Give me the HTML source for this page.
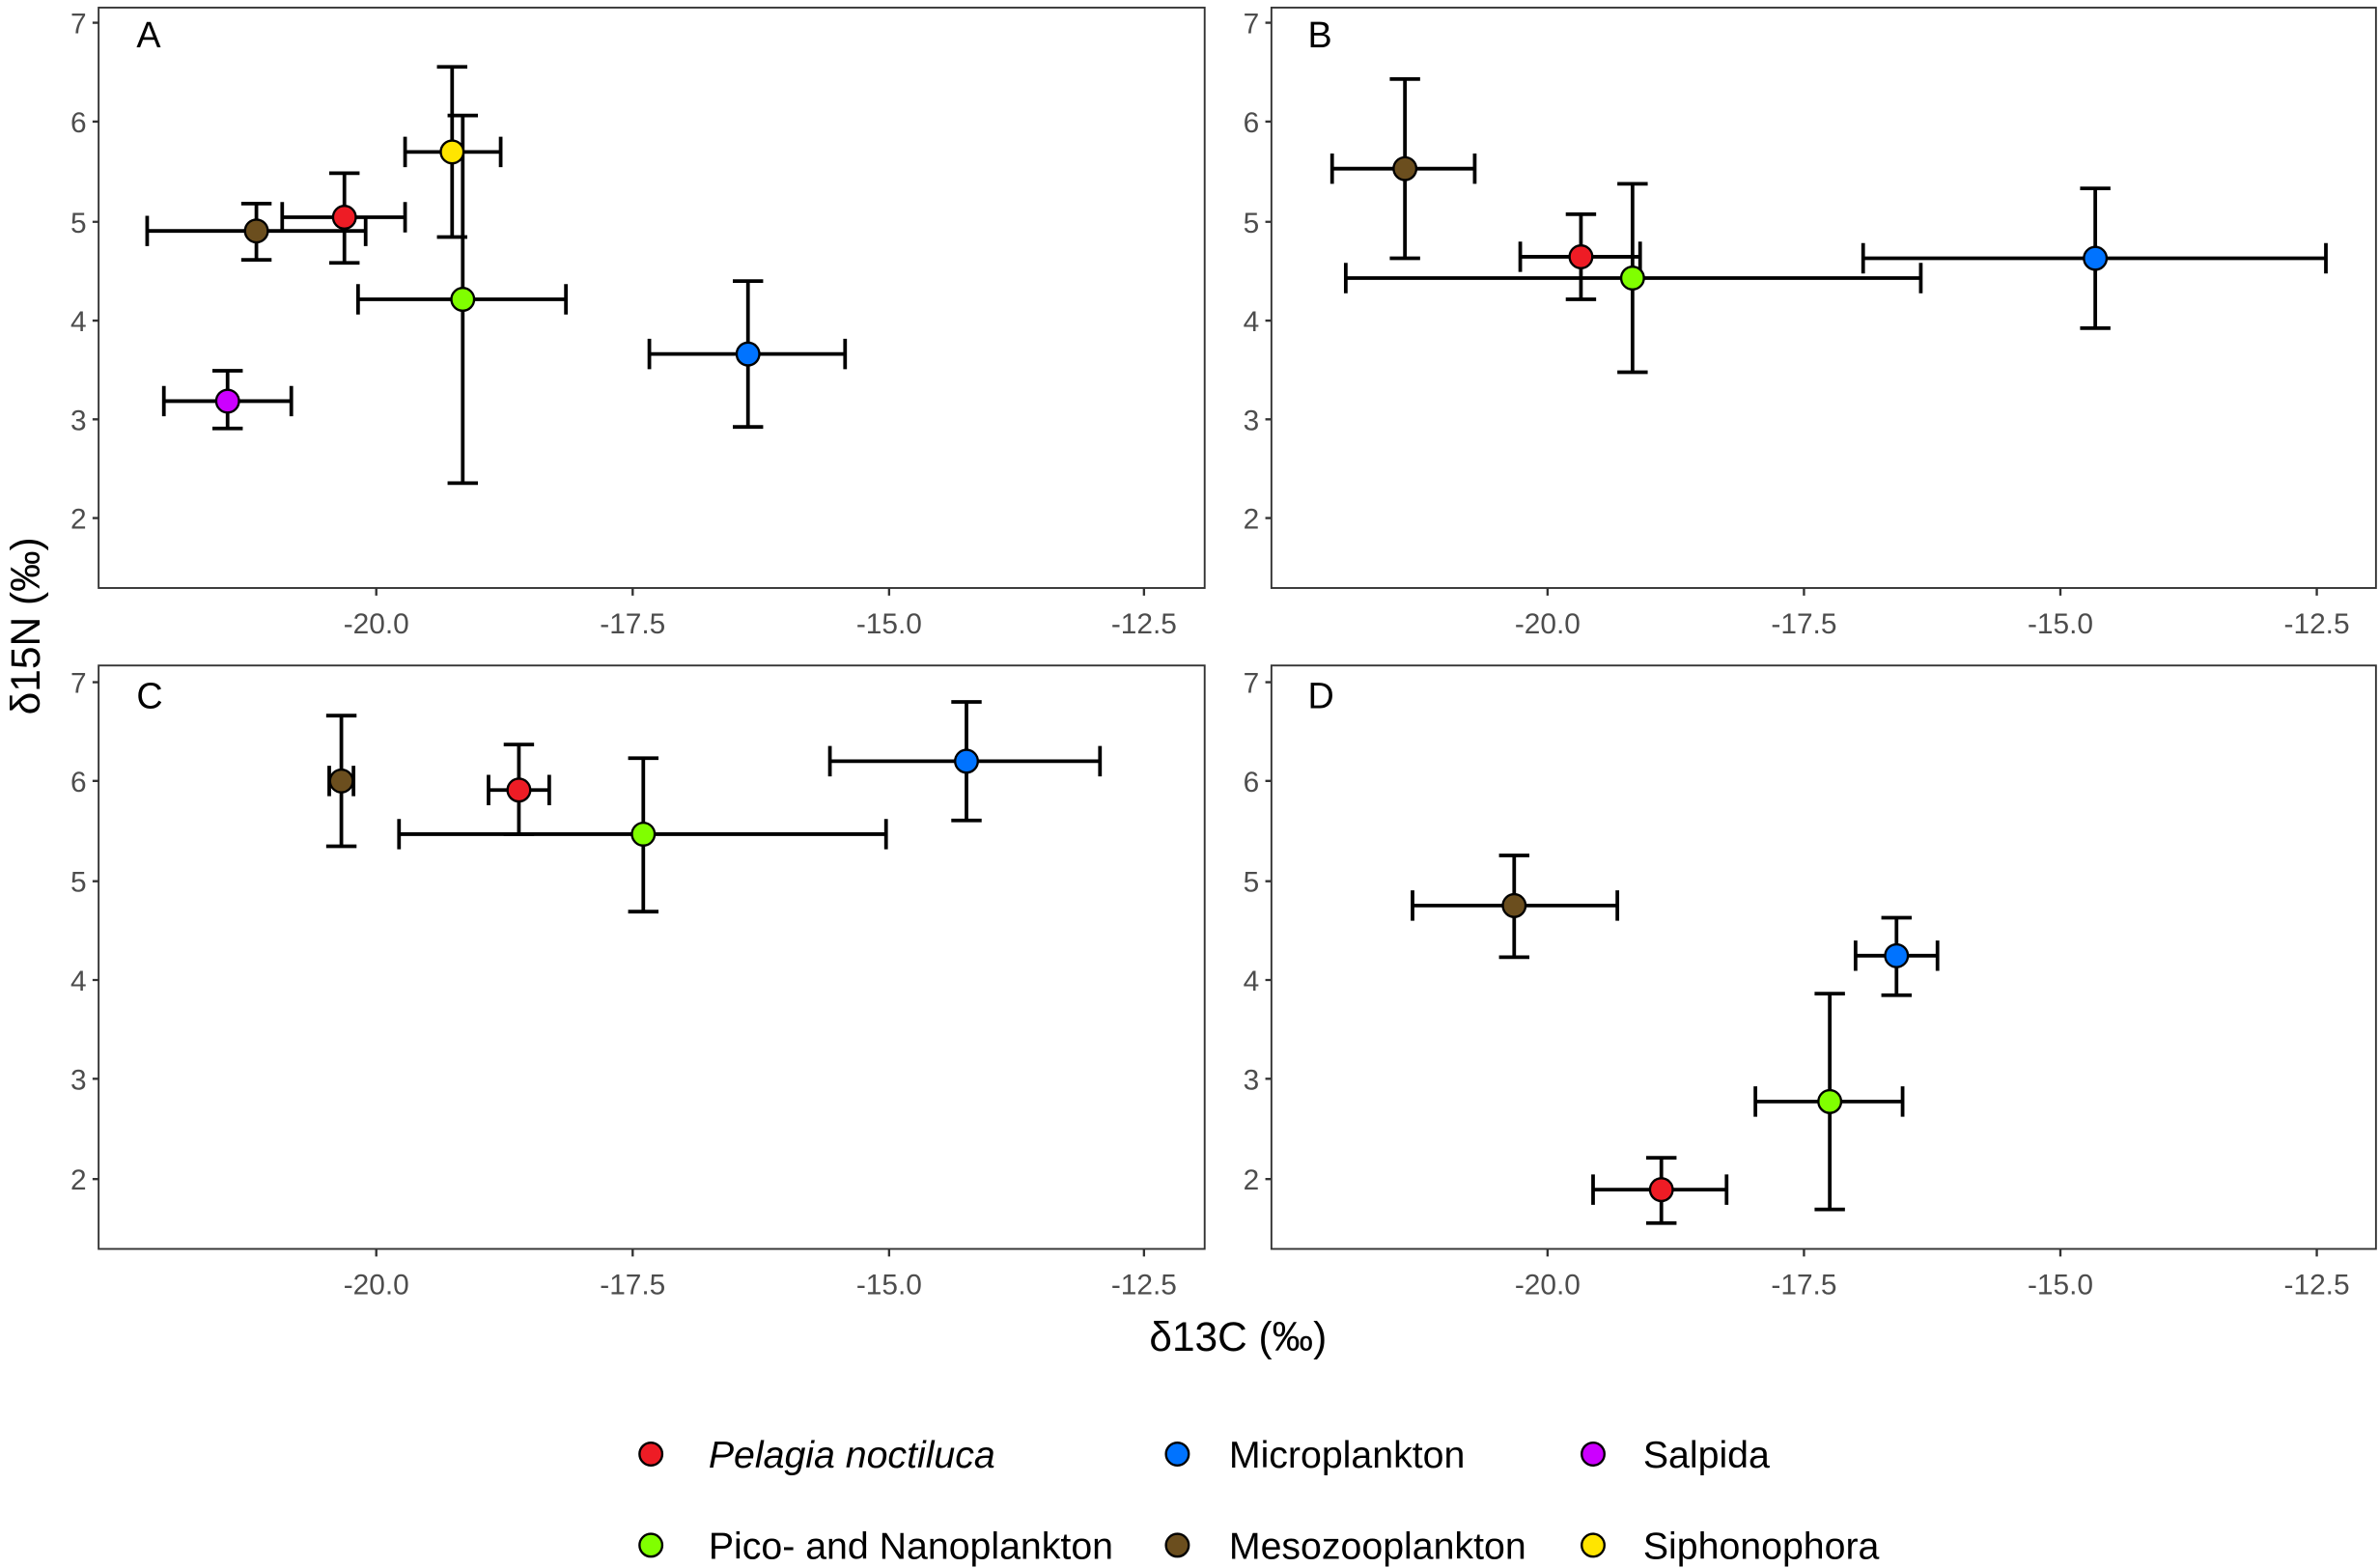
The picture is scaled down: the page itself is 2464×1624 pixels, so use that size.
<!DOCTYPE html>
<html><head><meta charset="utf-8"><style>html,body{margin:0;padding:0;background:#fff}svg{display:block}</style></head><body>
<svg width="2464" height="1624" viewBox="0 0 1568 1032" preserveAspectRatio="none" xmlns="http://www.w3.org/2000/svg" font-family="Liberation Sans, sans-serif">
<g fill="none" stroke="#333" stroke-width="1.2">
<rect x="65" y="5" width="729" height="382"/><rect x="838" y="5" width="728" height="382"/>
<rect x="65" y="438" width="729" height="384"/><rect x="838" y="438" width="728" height="384"/>
</g>
<g stroke="#333" stroke-width="1.5">
<path d="M248 387v5M417 387v5M586 387v5M754 387v5M1020 387v5M1189 387v5M1358 387v5M1527 387v5M248 822v5M417 822v5M586 822v5M754 822v5M1020 822v5M1189 822v5M1358 822v5M1527 822v5"/>
<path d="M61 15h4M61 80h4M61 146h4M61 211h4M61 276h4M61 341h4M834 15h4M834 80h4M834 146h4M834 211h4M834 276h4M834 341h4M61 449h4M61 514h4M61 580h4M61 645h4M61 710h4M61 776h4M834 449h4M834 514h4M834 580h4M834 645h4M834 710h4M834 776h4"/>
</g>
<g fill="#4d4d4d" font-size="19" text-anchor="middle">
<text x="248" y="417">-20.0</text><text x="417" y="417">-17.5</text><text x="586" y="417">-15.0</text><text x="754" y="417">-12.5</text>
<text x="1020" y="417">-20.0</text><text x="1189" y="417">-17.5</text><text x="1358" y="417">-15.0</text><text x="1527" y="417">-12.5</text>
<text x="248" y="852">-20.0</text><text x="417" y="852">-17.5</text><text x="586" y="852">-15.0</text><text x="754" y="852">-12.5</text>
<text x="1020" y="852">-20.0</text><text x="1189" y="852">-17.5</text><text x="1358" y="852">-15.0</text><text x="1527" y="852">-12.5</text>
</g>
<g fill="#4d4d4d" font-size="19" text-anchor="end">
<text x="57" y="22">7</text><text x="57" y="87">6</text><text x="57" y="153">5</text><text x="57" y="218">4</text><text x="57" y="283">3</text><text x="57" y="348">2</text>
<text x="830" y="22">7</text><text x="830" y="87">6</text><text x="830" y="153">5</text><text x="830" y="218">4</text><text x="830" y="283">3</text><text x="830" y="348">2</text>
<text x="57" y="456">7</text><text x="57" y="521">6</text><text x="57" y="587">5</text><text x="57" y="652">4</text><text x="57" y="717">3</text><text x="57" y="783">2</text>
<text x="830" y="456">7</text><text x="830" y="521">6</text><text x="830" y="587">5</text><text x="830" y="652">4</text><text x="830" y="717">3</text><text x="830" y="783">2</text>
</g>
<g font-size="24" fill="#000">
<text x="90" y="31">A</text><text x="862" y="31">B</text><text x="90" y="466">C</text><text x="862" y="466">D</text>
<text x="816" y="889" text-anchor="middle" font-size="27">δ13C (‰)</text>
<text transform="translate(26,412) rotate(-90)" text-anchor="middle" font-size="27">δ15N (‰)</text>
</g>
<g stroke="#000" stroke-width="2.4" fill="none">
<path d="M97 152H241M97 142v20M241 142v20M169 134V171M159 134h20M159 171h20"/>
<path d="M186 143H267M186 133v20M267 133v20M227 114V173M217 114h20M217 173h20"/>
<path d="M298 44V156M288 44h20M288 156h20"/>
<path d="M305 76V318M295 76h20M295 318h20M236 197H373M236 187v20M373 187v20"/>
<path d="M267 100H330M267 90v20M330 90v20"/>
<path d="M428 233H557M428 223v20M557 223v20M493 185V281M483 185h20M483 281h20"/>
<path d="M108 264H192M108 254v20M192 254v20M150 244V282M140 244h20M140 282h20"/>
<path d="M878 111H972M878 101v20M972 101v20M926 52V170M916 52h20M916 170h20"/>
<path d="M1002 169H1081M1002 159v20M1081 159v20M1042 141V197M1032 141h20M1032 197h20"/>
<path d="M887 183H1266M887 173v20M1266 173v20M1076 121V245M1066 121h20M1066 245h20"/>
<path d="M1228 170H1533M1228 160v20M1533 160v20M1381 124V216M1371 124h20M1371 216h20"/>
<path d="M217 514H233M217 504v20M233 504v20M225 471V557M215 471h20M215 557h20"/>
<path d="M322 520H362M322 510v20M362 510v20M342 490V549M332 490h20M332 549h20"/>
<path d="M263 549H584M263 539v20M584 539v20M424 499V600M414 499h20M414 600h20"/>
<path d="M547 501H725M547 491v20M725 491v20M637 462V540M627 462h20M627 540h20"/>
<path d="M931 596H1066M931 586v20M1066 586v20M998 563V630M988 563h20M988 630h20"/>
<path d="M1223 629H1277M1223 619v20M1277 619v20M1250 604V655M1240 604h20M1240 655h20"/>
<path d="M1157 725H1254M1157 715v20M1254 715v20M1206 654V796M1196 654h20M1196 796h20"/>
<path d="M1050 783H1138M1050 773v20M1138 773v20M1095 762V805M1085 762h20M1085 805h20"/>
</g>
<g stroke="#000" stroke-width="1.5">
<circle cx="169" cy="152" r="7.5" fill="#6b4e1e"/><circle cx="227" cy="143" r="7.5" fill="#ee1c25"/>
<circle cx="305" cy="197" r="7.5" fill="#80ff00"/><circle cx="298" cy="100" r="7.5" fill="#ffe500"/>
<circle cx="493" cy="233" r="7.5" fill="#0073ff"/><circle cx="150" cy="264" r="7.5" fill="#cc00ff"/>
<circle cx="926" cy="111" r="7.5" fill="#6b4e1e"/><circle cx="1042" cy="169" r="7.5" fill="#ee1c25"/>
<circle cx="1076" cy="183" r="7.5" fill="#80ff00"/><circle cx="1381" cy="170" r="7.5" fill="#0073ff"/>
<circle cx="225" cy="514" r="7.5" fill="#6b4e1e"/><circle cx="342" cy="520" r="7.5" fill="#ee1c25"/>
<circle cx="424" cy="549" r="7.5" fill="#80ff00"/><circle cx="637" cy="501" r="7.5" fill="#0073ff"/>
<circle cx="998" cy="596" r="7.5" fill="#6b4e1e"/><circle cx="1250" cy="629" r="7.5" fill="#0073ff"/>
<circle cx="1206" cy="725" r="7.5" fill="#80ff00"/><circle cx="1095" cy="783" r="7.5" fill="#ee1c25"/>
<circle cx="429" cy="957" r="7.5" fill="#ee1c25"/><circle cx="776" cy="957" r="7.5" fill="#0073ff"/><circle cx="1050" cy="957" r="7.5" fill="#cc00ff"/>
<circle cx="429" cy="1017" r="7.5" fill="#80ff00"/><circle cx="776" cy="1017" r="7.5" fill="#6b4e1e"/><circle cx="1050" cy="1017" r="7.5" fill="#ffe500"/>
</g>
<g font-size="25" fill="#000">
<text x="467" y="966" font-style="italic">Pelagia noctiluca</text><text x="810" y="966">Microplankton</text><text x="1083" y="966">Salpida</text>
<text x="467" y="1026">Pico- and Nanoplankton</text><text x="810" y="1026">Mesozooplankton</text><text x="1083" y="1026">Siphonophora</text>
</g>
</svg>
</body></html>
